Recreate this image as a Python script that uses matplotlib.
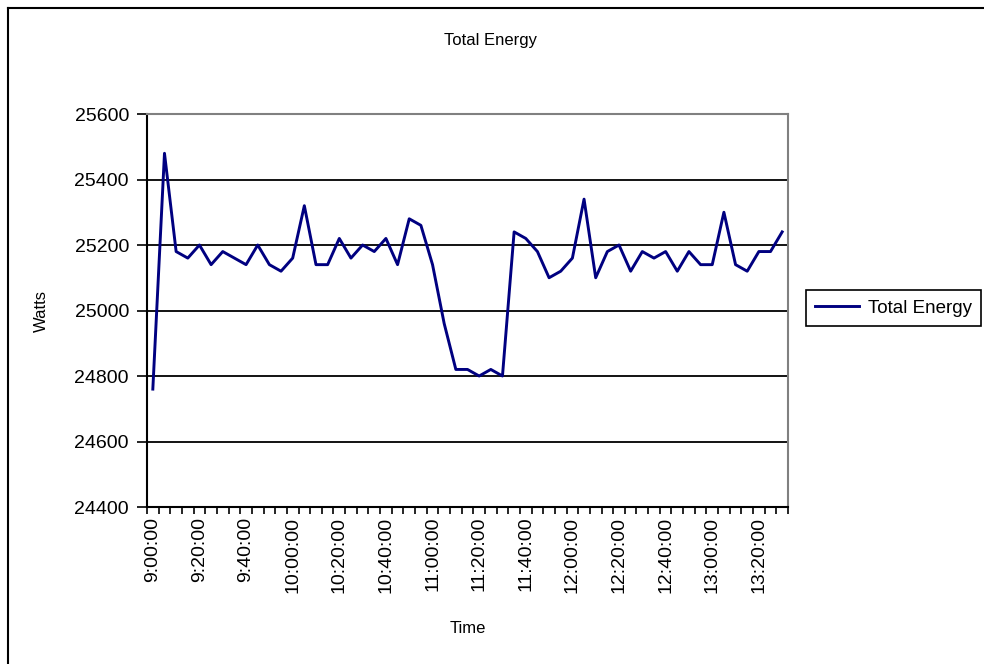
import matplotlib
matplotlib.use('Agg')
import matplotlib.pyplot as plt
from matplotlib.lines import Line2D

plt.rcParams['font.family'] = ['Liberation Sans', 'DejaVu Sans']

# readings every 5 minutes from 9:00 to 13:30
times = ['%d:%02d:00' % (9 + (i * 5) // 60, (i * 5) % 60) for i in range(55)]
watts = [24760, 25480, 25180, 25160, 25200, 25140, 25180, 25160, 25140, 25200,
         25140, 25120, 25160, 25320, 25140, 25140, 25220, 25160, 25200, 25180,
         25220, 25140, 25280, 25260, 25140, 24960, 24820, 24820, 24800, 24820,
         24800, 25240, 25220, 25180, 25100, 25120, 25160, 25340, 25100, 25180,
         25200, 25120, 25180, 25160, 25180, 25120, 25180, 25140, 25140, 25300,
         25140, 25120, 25180, 25180, 25240]
yticks = [24400, 24600, 24800, 25000, 25200, 25400, 25600]

fig = plt.figure(figsize=(9.84, 6.64), dpi=100)
ax = fig.add_axes([147/984, 1 - 507/664, 641/984, 393/664])

x = list(range(len(watts)))
ax.plot(x, watts, color='#000080', lw=2.1, label='Total Energy', zorder=3)

ax.set_ylim(24400, 25600)
ax.set_yticks(yticks)
for v in yticks[1:-1]:
    ax.axhline(v, color='black', lw=1.3, zorder=1)
ax.set_xlim(-0.5, len(watts) - 0.5)

# labels every 4th category, tick marks on category boundaries
lab_pos = x[::4]
ax.set_xticks(lab_pos)
ax.set_xticklabels([times[i] for i in lab_pos], rotation=90, fontsize=14)
ax.set_xticks([i - 0.5 for i in range(len(watts) + 1)], minor=True)
ax.tick_params(axis='x', which='major', length=0, pad=7)
ax.tick_params(axis='x', which='minor', length=5, width=1.2, direction='out')
ax.tick_params(axis='y', length=7, width=1.2, labelsize=14, pad=6)

for s in ['left', 'bottom']:
    ax.spines[s].set_color('black')
    ax.spines[s].set_linewidth(1.5)
for s in ['top', 'right']:
    ax.spines[s].set_color('#808080')
    ax.spines[s].set_linewidth(1.5)

fig.text(490/984, 1 - 41/664, 'Total Energy', fontsize=12, ha='center', va='center')
ax.set_xlabel('Time', fontsize=12, labelpad=20)
ax.set_ylabel('Watts', fontsize=12, labelpad=18)

leg = fig.legend(loc='center left', bbox_to_anchor=(806/984, 1 - 308/664),
                 fontsize=13.5, fancybox=False, framealpha=1, edgecolor='black',
                 handlelength=2.3, handletextpad=0.5, borderpad=0.5,
                 borderaxespad=0)
leg.get_frame().set_linewidth(1.2)

# chart border (runs off the right and bottom of the image)
fig.add_artist(Line2D([8/984, 8/984], [0, 1 - 8/664], color='black', lw=1.5,
                      transform=fig.transFigure))
fig.add_artist(Line2D([8/984, 1], [1 - 8/664, 1 - 8/664], color='black', lw=1.5,
                      transform=fig.transFigure))

fig.savefig('out.png', dpi=100)
